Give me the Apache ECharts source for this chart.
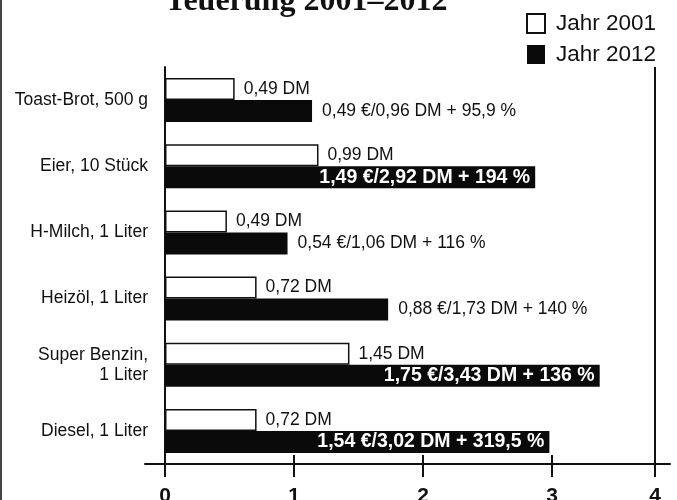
<!DOCTYPE html>
<html>
<head>
<meta charset="utf-8">
<script src="https://cdn.jsdelivr.net/npm/echarts@6/dist/echarts.min.js"></script>
<style>html,body{margin:0;padding:0;background:#fff;}#c{width:677px;height:500px;}</style>
</head>
<body>
<div id="c"></div>
<script>
const categories = ['Toast-Brot, 500 g', 'Eier, 10 Stück', 'H-Milch, 1 Liter', 'Heizöl, 1 Liter', 'Super Benzin,\n1 Liter', 'Diesel, 1 Liter'];
const values2001 = [0.54, 1.19, 0.48, 0.71, 1.43, 0.71];
const values2012 = [1.14, 2.87, 0.95, 1.73, 3.37, 2.98];
const labels2001 = ['0,49 DM', '0,99 DM', '0,49 DM', '0,72 DM', '1,45 DM', '0,72 DM'];
const labels2012 = ['0,49 €/0,96 DM + 95,9 %', '1,49 €/2,92 DM + 194 %', '0,54 €/1,06 DM + 116 %', '0,88 €/1,73 DM + 140 %', '1,75 €/3,43 DM + 136 %', '1,54 €/3,02 DM + 319,5 %'];
const inside2012 = [false, true, false, false, true, true];
const tickValues = [0, 1, 2, 3, 3.8];
const tickLabels = ['0', '1', '2', '3', '4'];
const seriesNames = ['Jahr 2001', 'Jahr 2012'];
const titleText = 'Teuerung 2001–2012';

const FONT = 'Liberation Sans, Arial, sans-serif';
const AXMIN = -0.155, AXMAX = 3.915;

const chart = echarts.init(document.getElementById('c'));
chart.setOption({
  backgroundColor: '#fff',
  animation: false,
  title: {
    text: titleText, left: 160, top: -19,
    textStyle: { fontFamily: 'Liberation Serif, Times New Roman, serif', fontWeight: 'bold', fontSize: 32, lineHeight: 32, color: '#111' }
  },
  legend: {
    orient: 'vertical', left: 526, top: 12, padding: 0,
    itemWidth: 18, itemHeight: 19, itemGap: 8, icon: 'rect',
    textStyle: { fontFamily: FONT, fontSize: 22.5, color: '#111', padding: [0, 0, 0, 6] },
    data: seriesNames
  },
  graphic: [{ type: 'rect', shape: { x: 0, y: 0, width: 2, height: 500 }, style: { fill: '#444' } }],
  grid: { left: 145, right: 7, top: 67, bottom: 36, containLabel: false, outerBoundsMode: 'none' },
  xAxis: [{
    type: 'value', min: AXMIN, max: AXMAX, position: 'bottom',
    axisLine: { show: true, lineStyle: { color: '#111', width: 2 } },
    axisTick: { show: true, customValues: tickValues, length: 13, lineStyle: { color: '#111', width: 2 } },
    axisLabel: {
      customValues: tickValues, margin: 22,
      formatter: v => { const i = tickValues.indexOf(v); return i >= 0 ? tickLabels[i] : ''; },
      fontFamily: FONT, fontWeight: 'bold', fontSize: 21, color: '#111'
    },
    splitLine: { show: false }
  }, {
    type: 'value', min: AXMIN, max: AXMAX, position: 'bottom',
    axisLine: { show: false },
    axisTick: { show: true, inside: true, customValues: tickValues, length: 9, lineStyle: { color: '#111', width: 2 } },
    axisLabel: { show: false },
    splitLine: { show: false }
  }],
  yAxis: {
    type: 'category', data: categories, inverse: true,
    axisLine: { show: true, onZero: true, lineStyle: { color: '#111', width: 2 } },
    axisTick: { show: false },
    axisLabel: { margin: -3, fontFamily: FONT, fontSize: 17.5, color: '#111', lineHeight: 20, align: 'right' }
  },
  series: [{
    name: seriesNames[0], type: 'bar', xAxisIndex: 0, barWidth: 22, barGap: '0%',
    itemStyle: { color: '#fff', borderColor: '#111', borderWidth: 1.5 },
    label: {
      show: true, position: 'right', distance: 9,
      formatter: p => labels2001[p.dataIndex],
      fontFamily: FONT, fontSize: 17.5, color: '#111'
    },
    data: values2001,
    markLine: {
      silent: true, symbol: 'none', label: { show: false },
      lineStyle: { color: '#111', width: 2, type: 'solid' },
      data: [{ xAxis: tickValues[4] }]
    }
  }, {
    name: seriesNames[1], type: 'bar', xAxisIndex: 0, barWidth: 22, barGap: '0%',
    itemStyle: { color: '#0a0a0a' },
    data: values2012.map((v, i) => ({
      value: v,
      label: inside2012[i]
        ? { show: true, position: 'insideRight', distance: 5, formatter: labels2012[i], fontFamily: FONT, fontSize: 19.5, fontWeight: 'bold', color: '#fff' }
        : { show: true, position: 'right', distance: 10, formatter: labels2012[i], fontFamily: FONT, fontSize: 17.5, color: '#111' }
    }))
  }]
});
</script>
</body>
</html>
